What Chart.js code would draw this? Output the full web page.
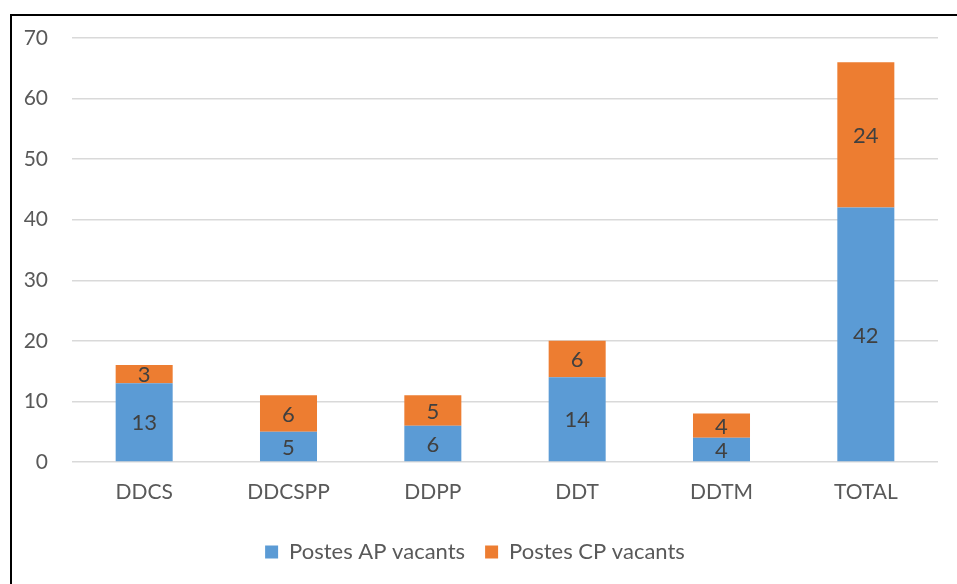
<!DOCTYPE html>
<html>
<head>
<meta charset="utf-8">
<script src="https://cdn.jsdelivr.net/npm/chart.js@4/dist/chart.umd.min.js"></script>
<style>
html,body{margin:0;padding:0;background:#fff;}
#wrap{position:relative;width:957px;height:584px;overflow:hidden;}
#frame{position:absolute;left:10px;top:14px;width:960px;height:600px;border:2px solid #000;box-sizing:border-box;pointer-events:none;}
canvas{position:absolute;left:0;top:0;}
</style>
</head>
<body>
<div id="wrap">
<canvas id="c" width="957" height="584"></canvas>
<div id="frame"></div>
</div>
<script>
const categories = ["DDCS", "DDCSPP", "DDPP", "DDT", "DDTM", "TOTAL"];
const postesAP = [13, 5, 6, 14, 4, 42];
const postesCP = [3, 6, 5, 6, 4, 24];
const seriesNames = ["Postes AP vacants", "Postes CP vacants"];
const yTicks = [0, 10, 20, 30, 40, 50, 60, 70];

const FONT = "Lato, 'Open Sans', sans-serif";

const valueLabels = {
  id: 'valueLabels',
  afterDatasetsDraw(chart) {
    const ctx = chart.ctx;
    ctx.save();
    ctx.font = "22px " + FONT;
    ctx.fillStyle = "#404040";
    ctx.textAlign = "center";
    ctx.textBaseline = "middle";
    chart.data.datasets.forEach((ds, di) => {
      const meta = chart.getDatasetMeta(di);
      meta.data.forEach((bar, i) => {
        const y = (bar.y + bar.base) / 2;
        ctx.fillText(String(ds.data[i]), bar.x, y + 1);
      });
    });
    ctx.restore();
  }
};

new Chart(document.getElementById('c'), {
  type: 'bar',
  data: {
    labels: categories,
    datasets: [
      { label: seriesNames[0], data: postesAP, backgroundColor: '#5B9BD5', borderWidth: 0 },
      { label: seriesNames[1], data: postesCP, backgroundColor: '#ED7D31', borderWidth: 0 }
    ]
  },
  options: {
    responsive: false,
    animation: false,
    devicePixelRatio: 1,
    layout: { padding: { left: 12, right: 19, top: 38, bottom: 11 } },
    datasets: { bar: { barPercentage: 0.395, categoryPercentage: 1 } },
    scales: {
      x: {
        stacked: true,
        grid: { display: false, drawTicks: false },
        border: { display: false },
        ticks: { font: { family: FONT, size: 21 }, color: '#595959', padding: 18 },
        afterFit(s) { s.height = 59; }
      },
      y: {
        stacked: true,
        min: 0, max: 70,
        afterBuildTicks(s) { s.ticks = yTicks.map(v => ({ value: v })); },
        grid: { color: '#d9d9d9', lineWidth: 1.5, drawTicks: false },
        border: { display: false },
        ticks: { font: { family: FONT, size: 21 }, color: '#595959', padding: 24 },
        afterFit(s) { s.width = 60; }
      }
    },
    plugins: {
      legend: {
        position: 'bottom',
        labels: { font: { family: FONT, size: 22 }, color: '#595959', boxWidth: 13, boxHeight: 13, padding: 20 }
      },
      tooltip: { enabled: false }
    }
  },
  plugins: [valueLabels]
});
</script>
</body>
</html>
